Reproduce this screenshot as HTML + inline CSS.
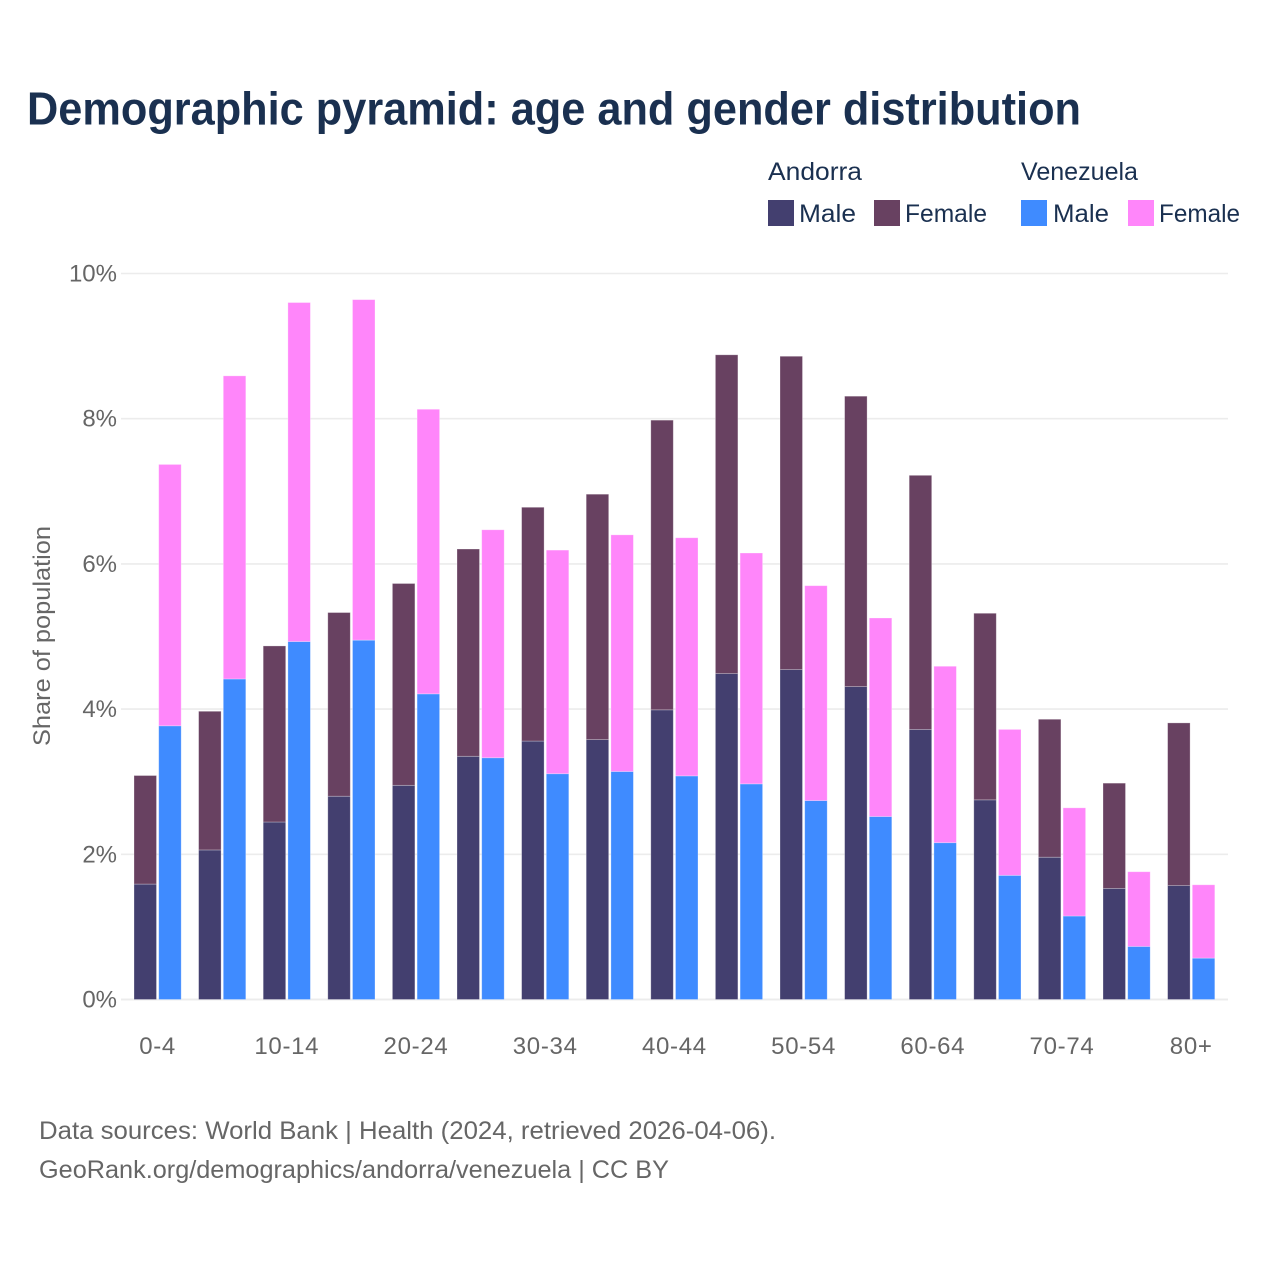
<!DOCTYPE html>
<html lang="en">
<head>
<meta charset="utf-8">
<title>Demographic pyramid: age and gender distribution</title>
<style>
html,body{margin:0;padding:0;background:#fff;}
svg{display:block;}
text{font-family:"Liberation Sans",sans-serif;}
</style>
</head>
<body>
<svg id="chart" xmlns="http://www.w3.org/2000/svg" width="1280" height="1280" viewBox="0 0 1280 1280">
  <rect x="0" y="0" width="1280" height="1280" fill="#ffffff"/>
  <text x="27" y="124.5" font-size="46" font-weight="700" fill="#1a3050" textLength="1054" lengthAdjust="spacingAndGlyphs">Demographic pyramid: age and gender distribution</text>

  <g font-size="25" fill="#1a3050">
    <text x="768" y="180" textLength="94" lengthAdjust="spacingAndGlyphs">Andorra</text>
    <text x="1021" y="180" textLength="117" lengthAdjust="spacingAndGlyphs">Venezuela</text>
    <rect x="768" y="200" width="26" height="26" fill="#433f6f"/>
    <text x="799" y="222" textLength="57" lengthAdjust="spacingAndGlyphs">Male</text>
    <rect x="874" y="200" width="26" height="26" fill="#684161"/>
    <text x="905" y="222" textLength="82" lengthAdjust="spacingAndGlyphs">Female</text>
    <rect x="1021" y="200" width="26" height="26" fill="#3f8bff"/>
    <text x="1053" y="222" textLength="56" lengthAdjust="spacingAndGlyphs">Male</text>
    <rect x="1128" y="200" width="26" height="26" fill="#ff86fa"/>
    <text x="1159" y="222" textLength="81" lengthAdjust="spacingAndGlyphs">Female</text>
  </g>

  <g id="grid"></g>
  <g id="bars"></g>
  <g id="y-ticks"></g>
  <g id="x-ticks"></g>

  <text transform="translate(50,636) rotate(-90)" text-anchor="middle" font-size="24" fill="#666666" textLength="220" lengthAdjust="spacingAndGlyphs">Share of population</text>

  <text x="39" y="1139" font-size="25" fill="#666666" textLength="737" lengthAdjust="spacingAndGlyphs">Data sources: World Bank | Health (2024, retrieved 2026-04-06).</text>
  <text x="39" y="1178" font-size="25" fill="#666666" textLength="630" lengthAdjust="spacingAndGlyphs">GeoRank.org/demographics/andorra/venezuela | CC BY</text>
</svg>
<script>
const ageGroups = ["0-4","5-9","10-14","15-19","20-24","25-29","30-34","35-39","40-44","45-49","50-54","55-59","60-64","65-69","70-74","75-79","80+"];
const andorraMale = [1.59,2.06,2.445,2.80,2.95,3.35,3.56,3.58,3.99,4.49,4.545,4.31,3.72,2.75,1.96,1.53,1.57];
const andorraFemale = [1.495,1.91,2.425,2.53,2.78,2.855,3.22,3.38,3.99,4.39,4.315,4.00,3.50,2.57,1.90,1.45,2.24];
const venezuelaMale = [3.77,4.415,4.93,4.95,4.21,3.33,3.11,3.14,3.08,2.97,2.74,2.52,2.16,1.71,1.15,0.73,0.57];
const venezuelaFemale = [3.60,4.175,4.67,4.69,3.92,3.14,3.08,3.26,3.28,3.18,2.96,2.735,2.43,2.01,1.49,1.03,1.01];
const yTicks = [0,2,4,6,8,10];
const xTickLabels = ["0-4","10-14","20-24","30-34","40-44","50-54","60-64","70-74","80+"];

const NS = "http://www.w3.org/2000/svg";
const plotLeft = 121, plotRight = 1228;
const y0 = 999.5, pxPerUnit = 72.6;
const groupStart = 134, groupStep = 64.6, barWidth = 22.5, barOffset = 24.7;

function yScale(v){ return y0 - v * pxPerUnit; }
function xScale(i){ return groupStart + i * groupStep; }
function groupCenter(i){ return xScale(i) + (barOffset + barWidth) / 2; }

const gridLayer = document.getElementById("grid");
yTicks.forEach(function(t){
  const line = document.createElementNS(NS, "line");
  line.setAttribute("x1", plotLeft);
  line.setAttribute("x2", plotRight);
  line.setAttribute("y1", yScale(t));
  line.setAttribute("y2", yScale(t));
  line.setAttribute("stroke", "#ececec");
  line.setAttribute("stroke-width", t === 0 ? 2 : 1.6);
  
  
  gridLayer.appendChild(line);
});

const yTickLayer = document.getElementById("y-ticks");
yTicks.forEach(function(t){
  const label = document.createElementNS(NS, "text");
  label.setAttribute("x", 117);
  label.setAttribute("y", yScale(t) + 8);
  label.setAttribute("text-anchor", "end");
  label.setAttribute("font-size", "24");
  label.setAttribute("fill", "#666666");
  label.textContent = t + "%";
  
  
  yTickLayer.appendChild(label);
});

const xTickLayer = document.getElementById("x-ticks");
xTickLabels.forEach(function(name){
  const label = document.createElementNS(NS, "text");
  label.setAttribute("x", groupCenter(ageGroups.indexOf(name)));
  label.setAttribute("y", 1054);
  label.setAttribute("text-anchor", "middle");
  label.setAttribute("font-size", "24");
  label.setAttribute("letter-spacing", "0.7");
  label.setAttribute("fill", "#666666");
  label.textContent = name;
  
  
  xTickLayer.appendChild(label);
});

function drawSegment(layer, x, low, high, color){
  const r = document.createElementNS(NS, "rect");
  r.setAttribute("x", x);
  r.setAttribute("y", yScale(high));
  r.setAttribute("width", barWidth);
  r.setAttribute("height", yScale(low) - yScale(high));
  r.setAttribute("fill", color);
  r.setAttribute("stroke", "rgba(255,255,255,0.35)");
  r.setAttribute("stroke-width", "0.8");
  
  
  layer.appendChild(r);
}

const barLayer = document.getElementById("bars");
ageGroups.forEach(function(age, i){
  const x = xScale(i);
  drawSegment(barLayer, x, 0, andorraMale[i], "#433f6f");
  drawSegment(barLayer, x, andorraMale[i], andorraMale[i] + andorraFemale[i], "#684161");
  drawSegment(barLayer, x + barOffset, 0, venezuelaMale[i], "#3f8bff");
  drawSegment(barLayer, x + barOffset, venezuelaMale[i], venezuelaMale[i] + venezuelaFemale[i], "#ff86fa");
});
</script>
</body>
</html>
